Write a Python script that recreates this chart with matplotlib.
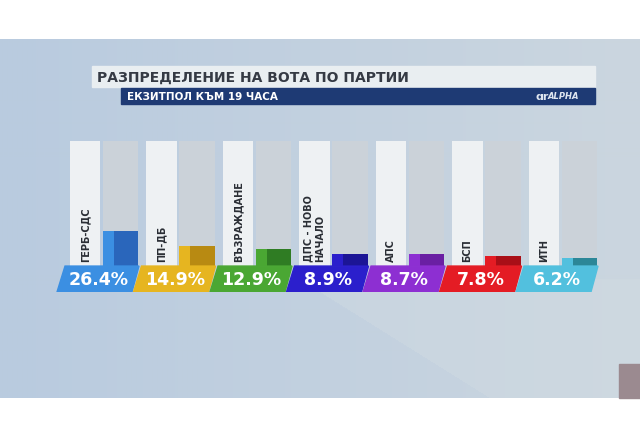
import numpy as np
import matplotlib.pyplot as plt
from matplotlib.patches import Rectangle, Polygon
from matplotlib.colors import to_rgb

# exit poll data
parties = ["ГЕРБ-СДС", "ПП-ДБ", "ВЪЗРАЖДАНЕ", "ДПС - НОВО\nНАЧАЛО", "АПС", "БСП", "ИТН"]
votes = [26.4, 14.9, 12.9, 8.9, 8.7, 7.8, 6.2]
box_colors = ["#3b8fe2", "#e6b520", "#4aa733", "#2b1fcc", "#8d2fd2", "#e41c24", "#52c0de"]
dark_colors = ["#2a66bb", "#b88a12", "#2f7c23", "#1c1596", "#6a1fa3", "#a90f17", "#2c8798"]
title = "РАЗПРЕДЕЛЕНИЕ НА ВОТА ПО ПАРТИИ"
subtitle = "ЕКЗИТПОЛ КЪМ 19 ЧАСА"
full_scale = 93.5

W, H = 640, 439
fig = plt.figure(figsize=(6.4, 4.39), dpi=100)
fig.patch.set_facecolor("white")

# background in pixel coords
bg = fig.add_axes([0, 0, 1, 1])
bg.set_xlim(0, W)
bg.set_ylim(H, 0)
bg.axis("off")

yy, xx = np.mgrid[40:400, 0:W]
left_c = np.array(to_rgb("#b9cbdf"))
right_c = np.array(to_rgb("#cbd6df"))
t = (xx / W)[..., None]
img = left_c * (1 - t) + right_c * t
# lighter diagonal area lower right
diag = ((xx - 330) - (yy - 300) * 1.6 > 0) & (yy > 280)
img[diag] = img[diag] * 0.6 + np.array(to_rgb("#d2dce2")) * 0.4
bg.imshow(img, extent=(0, W, 399, 40), aspect="auto", zorder=0)
bg.add_patch(Rectangle((619, 365), 21, 34, color="#9b8a90", zorder=1))

# title boxes
bg.add_patch(Rectangle((92, 67), 503, 21, color="#e9eef1", zorder=2))
bg.text(97, 77.5, title, fontsize=10, fontweight="bold", color="#353a44",
        va="center", ha="left", zorder=3)
bg.add_patch(Rectangle((121, 89), 474, 16, color="#1e3a74", zorder=2))
bg.text(127, 97.5, subtitle, fontsize=7.5, fontweight="bold", color="white",
        va="center", ha="left", zorder=3)
bg.text(548, 97, "ALPHA", fontsize=6, fontweight="bold", style="italic",
        color="#dfe6f0", va="center", ha="left", zorder=3)
bg.text(535, 97, "ɑr", fontsize=8, fontweight="bold", color="#dfe6f0",
        va="center", ha="left", zorder=3)

# bars axes
ax = fig.add_axes([0, (H - 293) / H, 1, (293 - 142) / H])
ax.set_facecolor("none")
ax.set_xlim(-1.575, 6.791)
ax.set_ylim(-19.4, full_scale)
ax.axis("off")

x = np.arange(len(parties))
n = len(parties)
ax.bar(x, [full_scale] * n, width=0.47, color="#cbd2d9", zorder=1)
ax.bar(x - 0.464, [full_scale] * n, width=0.405, color="#eef1f3", zorder=1)
ax.bar(x - 0.235, votes, width=0.144, align="edge", color=box_colors, zorder=2)
ax.bar(x - 0.091, votes, width=0.326, align="edge", color=dark_colors, zorder=2)

for i, (name, v) in enumerate(zip(parties, votes)):
    ax.add_patch(Polygon([(i - 0.725, 0), (i + 0.242, 0), (i + 0.150, -19.4), (i - 0.830, -19.4)],
                         closed=True, color=box_colors[i], zorder=3))
    ax.text(i - 0.29, -9.9, f"{v}%", fontsize=12.5, fontweight="bold", color="white",
            ha="center", va="center", zorder=4)
    ax.text(i - 0.464, 3.5, name, fontsize=7, fontweight="bold", color="#2a2e35",
            rotation=90, ha="center", va="bottom", multialignment="left", zorder=4)

fig.savefig("out.png", dpi=100)
